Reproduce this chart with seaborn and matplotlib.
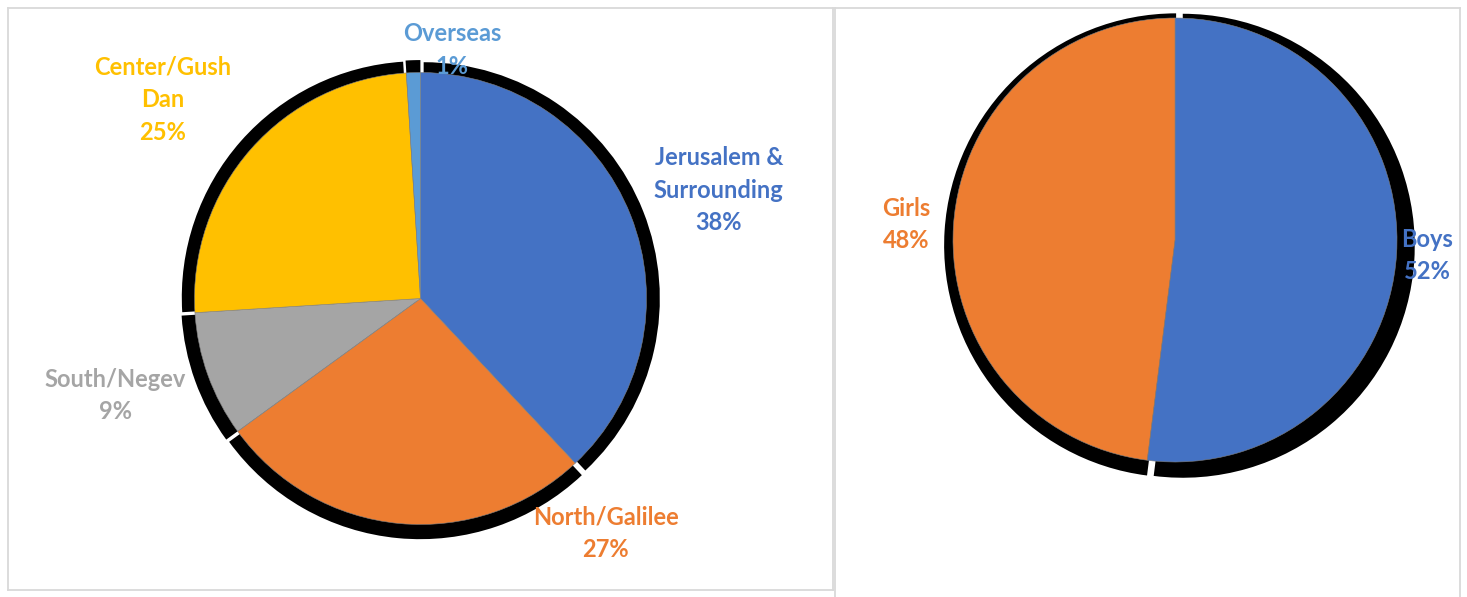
import matplotlib
matplotlib.use("Agg")
import matplotlib.pyplot as plt
import seaborn as sns

# Region pie
regions = ["Jerusalem &\nSurrounding", "North/Galilee", "South/Negev", "Center/Gush\nDan", "Overseas"]
region_share = [38, 27, 9, 25, 1]
region_colors = ["#4472C4", "#ED7D31", "#A5A5A5", "#FFC000", "#5B9BD5"]

# Gender pie
genders = ["Boys", "Girls"]
gender_share = [52, 48]
gender_colors = ["#4472C4", "#ED7D31"]

# label anchor points (pie radius units, relative to pie centre)
region_label_pos = [(1.32, 0.48), (0.82, -1.04), (-1.35, -0.43), (-1.14, 0.88), (0.14, 1.10)]
gender_label_pos = [(1.135, -0.07), (-1.21, 0.07)]

sns.set_theme(style="white")
plt.rcParams["font.family"] = ["Lato", "DejaVu Sans"]

W, H = 1467, 597
fig = plt.figure(figsize=(W / 100, H / 100), dpi=100)


def set_box(ax, box, centre, radius):
    # box = (left, top, right, bottom) in pixels, centre/radius in pixels
    l, t, r, b = box
    cx, cy = centre
    ax.set_xlim((l - cx) / radius, (r - cx) / radius)
    ax.set_ylim((cy - b) / radius, (cy - t) / radius)
    ax.set_aspect("auto")
    ax.set_xticks([])
    ax.set_yticks([])


def panel(box):
    l, t, r, b = box
    ax = fig.add_axes([l / W, (H - b) / H, (r - l) / W, (b - t) / H])
    for s in ax.spines.values():
        s.set_color("#d9d9d9")
        s.set_linewidth(1.3)
    return ax


def draw_pie(ax, values, colors, names, label_pos, shadow_xy):
    # black drop shadow, one wedge per slice
    ax.pie(values, colors=["black"] * len(values), startangle=90, counterclock=False,
           radius=1.045, center=shadow_xy, explode=[0.015] * len(values),
           wedgeprops=dict(linewidth=0), frame=True)
    ax.pie(values, colors=colors, startangle=90, counterclock=False, radius=1.0,
           wedgeprops=dict(linewidth=0.4, edgecolor="#7f7f7f"), frame=True)
    total = sum(values)
    for name, v, c, (x, y) in zip(names, values, colors, label_pos):
        ax.text(x, y, f"{name}\n{round(100 * v / total)}%", color=c, ha="center", va="center",
                fontsize=17, fontweight="bold", linespacing=1.5)


box1, c1, r1 = (8, 8, 833, 590), (420.5, 298.5), 226
box2, c2, r2 = (835, 8, 1460, 610), (1175, 240), 222

ax1 = panel(box1)
draw_pie(ax1, region_share, region_colors, regions, region_label_pos, (0, -0.005))
set_box(ax1, box1, c1, r1)

ax2 = panel(box2)
ax2.spines["bottom"].set_visible(False)
draw_pie(ax2, gender_share, gender_colors, genders, gender_label_pos, (0.02, -0.025))
set_box(ax2, box2, c2, r2)

fig.savefig("out.png", dpi=100, facecolor="white")
